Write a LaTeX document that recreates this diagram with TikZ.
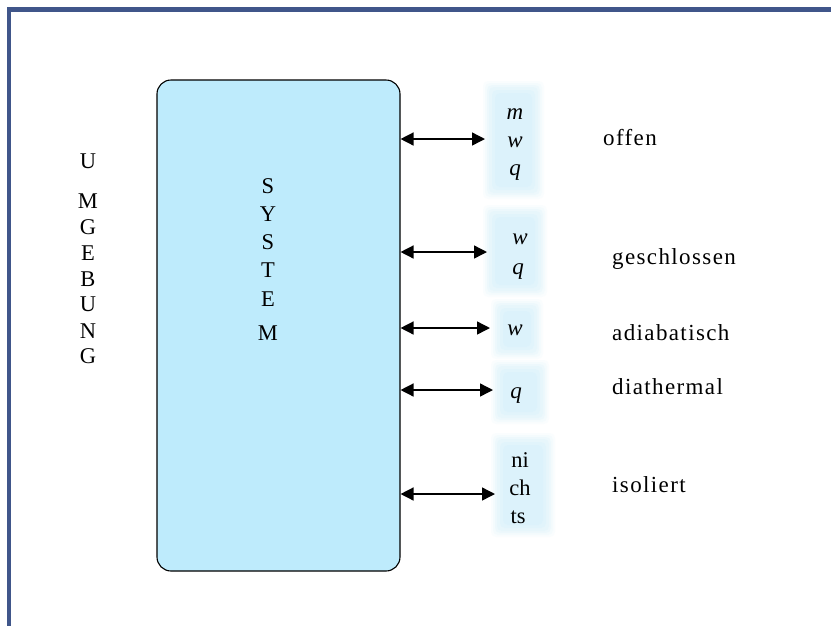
\documentclass[tikz,border=0pt]{standalone}
\usepackage{fontspec}
\setmainfont{Liberation Serif}
\usetikzlibrary{arrows.meta}
\definecolor{sysblue}{HTML}{BEEBFC}
\definecolor{glowblue}{HTML}{D2EFFB}
\definecolor{framec}{HTML}{40568A}
\tikzset{
  txt/.style={inner sep=0pt, font=\fontsize{22.5}{26}\selectfont},
  letter/.style={txt, anchor=base},
  lbl/.style={txt, anchor=base west, font=\fontsize{23}{26}\selectfont\addfontfeatures{LetterSpace=6}},
  sym/.style={txt, anchor=base, font=\fontsize{23}{26}\selectfont\itshape},
  arr/.style={{Triangle[length=13pt,width=13pt]}-{Triangle[length=13pt,width=13pt]}, line width=1.4pt},
  sysbox/.style={draw, fill=sysblue, rounded corners=14pt, line width=1.1pt, inner sep=0pt},
}
% soft glowing panel behind the exchange symbols
\newcommand{\glowpanel}[4]{%
  \foreach \d/\o in {7/0.10,5/0.14,3/0.18,1/0.22,-2/0.28,-5/0.3}
    \fill[glowblue, opacity=\o, rounded corners=5pt] (#1-\d,#2-\d) rectangle (#3+\d,#4+\d);
}
\begin{document}
\begin{tikzpicture}[x=1pt,y=-1pt]
\useasboundingbox (0,0) rectangle (831,625);
\clip (0,0) rectangle (831,625);
\fill[white] (0,0) rectangle (831,625);
\draw[framec, line width=4.5pt] (9,9.5) rectangle (860,660);

% the system
\node[sysbox, minimum width=243pt, minimum height=491pt] (sys) at (278.5,325.5) {};
\foreach \c/\y [count=\i] in {S/193,Y/221,S/249,T/277,E/306,M/340}
  \node[letter] (s\i) at (268,\y) {\c};

% the surroundings
\foreach \c/\y [count=\i] in {U/168,M/208,G/234,E/260,B/286,U/311,N/338,G/363}
  \node[letter] (u\i) at (88,\y) {\c};

% panels with exchanged quantities
\glowpanel{490}{88}{537}{192}
\glowpanel{490}{212}{540}{290}
\glowpanel{498}{306}{536}{352}
\glowpanel{498}{367}{542}{417}
\glowpanel{498}{440}{548}{530}

\node[sym] (m1) at (515,119) {m};
\node[sym] (w1) at (515,147) {w};
\node[sym] (q1) at (515,175) {q};
\node[sym] (w2) at (520,244) {w};
\node[sym] (q2) at (518,274) {q};
\node[sym] (w3) at (515,335) {w};
\node[sym] (q4) at (516,398) {q};
\node[letter] (n5) at (520,467) {ni};
\node[letter] (c5) at (520,495) {ch};
\node[letter] (t5) at (518,523) {ts};

% arrow ends
\coordinate (e1) at (485,139);
\coordinate (e2) at (487,252);
\coordinate (e3) at (490,328);
\coordinate (e4) at (493,390);
\coordinate (e5) at (495,494);
\foreach \k in {1,...,5}
  \draw[arr] (sys.east |- e\k) -- (e\k);

% kinds of system
\node[lbl] (l1) at (603,145) {offen};
\node[lbl] (l2) at (612,264) {geschlossen};
\node[lbl] (l3) at (612,340) {adiabatisch};
\node[lbl] (l4) at (612,394) {diathermal};
\node[lbl] (l5) at (612,492) {isoliert};
\end{tikzpicture}
\end{document}
